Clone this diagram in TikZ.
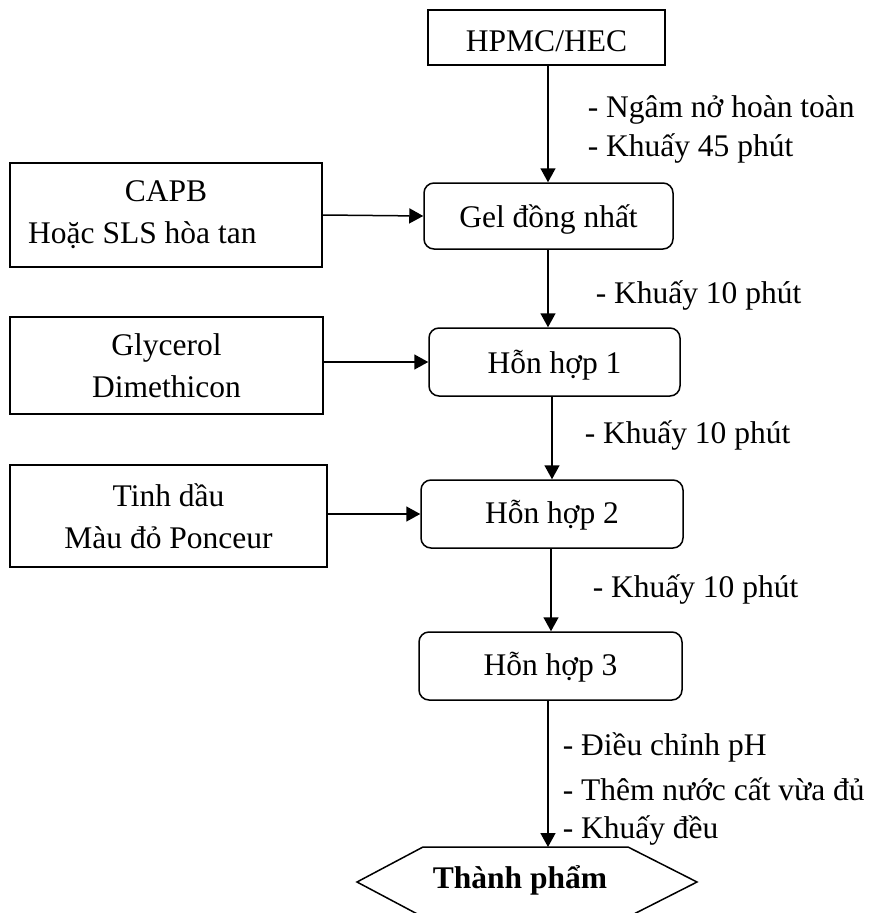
\documentclass[tikz,border=0pt]{standalone}
\usepackage{fontspec}
\setmainfont{Liberation Serif}
\usetikzlibrary{arrows.meta}
\begin{document}
\begin{tikzpicture}[x=1pt,y=-1pt,
  font=\fontsize{31.5}{42}\selectfont,
  line width=1.5pt,
  sqbox/.style={draw, rectangle, inner sep=0pt, align=center},
  rdbox/.style={draw, rectangle, rounded corners=10pt, inner sep=0pt, text height=28pt, text depth=6pt},
  arr/.style={-{Triangle[length=14pt,width=15pt]}},
  lbl/.style={anchor=base west, inner sep=0pt, align=left}]
\useasboundingbox (0,0) rectangle (895,913);
\coordinate (xa) at (548,0);
\coordinate (xb) at (552,0);
\coordinate (xc) at (551,0);
% main column
\node[sqbox, minimum width=237pt, minimum height=55pt, text height=34pt, text depth=6pt] (hpmc) at (546.5,37.5) {HPMC/HEC};
\node[rdbox, minimum width=249pt, minimum height=66pt] (gel) at (548.5,216) {Gel đồng nhất};
\node[rdbox, minimum width=251pt, minimum height=68pt] (hh1) at (554.5,362) {Hỗn hợp 1};
\node[rdbox, minimum width=262pt, minimum height=68pt, text height=26pt, text depth=8pt] (hh2) at (552,514) {Hỗn hợp 2};
\node[rdbox, minimum width=263pt, minimum height=68pt, text height=26pt, text depth=8pt] (hh3) at (550.5,666) {Hỗn hợp 3};
% side boxes
\node[sqbox, minimum width=312pt, minimum height=104pt] (capb) at (166,215) {CAPB\\Hoặc SLS hòa tan\hphantom{xxx}};
\node[sqbox, minimum width=313pt, minimum height=97pt] (gly) at (166.5,365.5) {Glycerol\\Dimethicon};
\node[sqbox, minimum width=317pt, minimum height=102pt] (tinh) at (168.5,516) {Tinh dầu\\Màu đỏ Ponceur};
% final product hexagon
\draw (357,882) -- (423,847) -- (628,847) -- (697,882) -- (628,917) -- (423,917) -- cycle;
\coordinate (tptop) at (548,847);
\node[anchor=base, inner sep=0pt, font=\fontsize{31.5}{42}\selectfont\bfseries] (tp) at (520,888) {Thành phẩm};
% connectors
\draw[arr] (hpmc.south -| xa) -- (gel.north -| xa);
\draw[arr] (gel.south -| xa) -- (hh1.north -| xa);
\draw[arr] (hh1.south -| xb) -- (hh2.north -| xb);
\draw[arr] (hh2.south -| xc) -- (hh3.north -| xc);
\draw[arr] (hh3.south -| xa) -- (tptop);
\draw[arr] (capb.east) -- (gel.west);
\draw[arr] (hh1.west -| gly.east) -- (hh1.west);
\draw[arr] (hh2.west -| tinh.east) -- (hh2.west);
% labels
\node[lbl, font=\fontsize{31.5}{39}\selectfont] (l1) at (587,156) {- Ngâm nở hoàn toàn\\- Khuấy 45 phút};
\node[lbl] (l2) at (595,303) {- Khuấy 10 phút};
\node[lbl] (l3) at (584,443) {- Khuấy 10 phút};
\node[lbl] (l4) at (592,597) {- Khuấy 10 phút};
\node[lbl, font=\fontsize{31.5}{38}\selectfont] (l5) at (562,838) {- Điều chỉnh pH\\[7pt]- Thêm nước cất vừa đủ\\- Khuấy đều};
\end{tikzpicture}
\end{document}
